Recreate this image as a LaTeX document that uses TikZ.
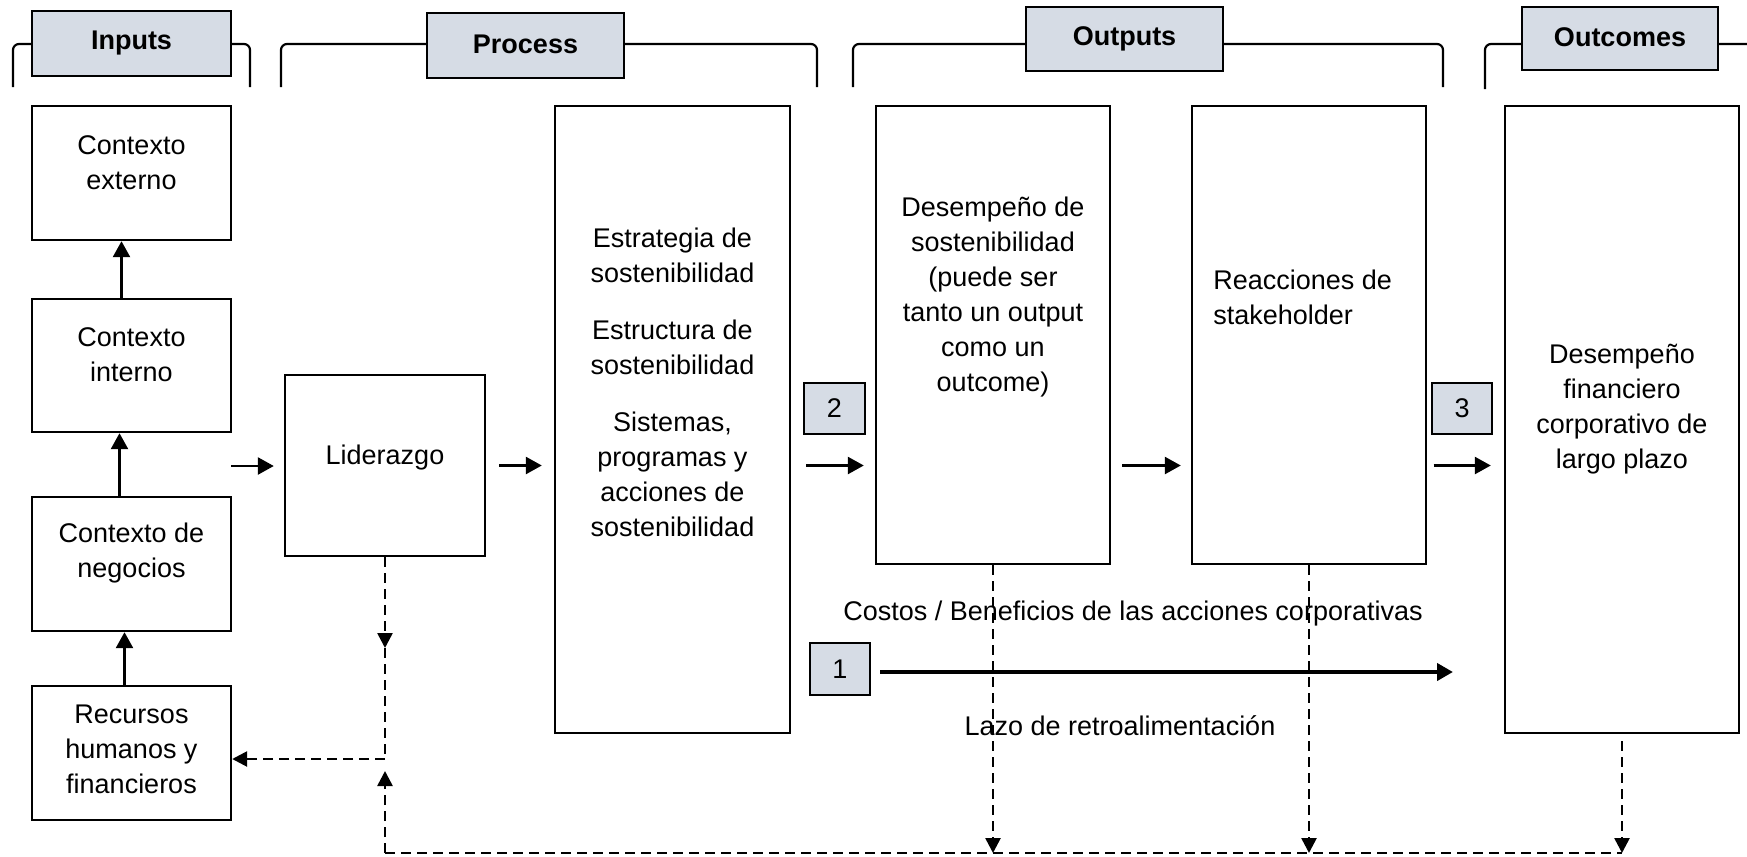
\documentclass[tikz,border=0pt]{standalone}
\usepackage{fontspec}
\setmainfont{Liberation Sans}
\usetikzlibrary{arrows.meta}
\definecolor{hdrfill}{RGB}{214,220,229}
\tikzset{
  box/.style={draw=black, line width=1.2pt, inner sep=0pt, fill=white},
  hdr/.style={draw=black, line width=1.2pt, inner sep=0pt, fill=hdrfill, font=\fontsize{13.5}{17.5}\selectfont\bfseries},
  numbox/.style={draw=black, line width=1.2pt, inner sep=0pt, fill=hdrfill, font=\fontsize{13.5}{17.5}\selectfont},
  txt/.style={align=center, inner sep=0pt, yshift=-0.6pt, font=\fontsize{13.5}{17.5}\selectfont},
  brk/.style={draw=black, line width=1.1pt, rounded corners=3pt},
  arr/.style={line width=1.3pt, -{Triangle[length=8pt,width=8.5pt]}},
  darr/.style={line width=1.3pt, dash pattern=on 5pt off 3pt, -{Triangle[length=7.5pt,width=7.5pt]}},
  dln/.style={line width=1.3pt, dash pattern=on 5pt off 3pt},
}
\begin{document}
\begin{tikzpicture}[x=0.5pt,y=-0.5pt]
\useasboundingbox (0,0) rectangle (1747,857);

% brackets
\draw[brk] (13,87) |- (250,44) -- (250,87);
\draw[brk] (281,87) |- (817,44) -- (817,87);
\draw[brk] (853,87) |- (1443,44) -- (1443,87);
\draw[brk] (1485,89) |- (1760,44);

% header boxes
\node[hdr, minimum width=99.5pt, minimum height=32.5pt] (hin) at (131.5,43.5) {\raisebox{0.6pt}{Inputs}};
\node[hdr, minimum width=98.5pt, minimum height=32.5pt] (hpr) at (525.5,45.5) {\raisebox{1.7pt}{Process}};
\node[hdr, minimum width=98.5pt, minimum height=32pt] (hou) at (1124.5,39) {\raisebox{0.6pt}{Outputs}};
\node[hdr, minimum width=98pt, minimum height=31.5pt] (hoc) at (1620,38.5) {\raisebox{1.7pt}{Outcomes}};

% input boxes
\node[box, minimum width=99.5pt, minimum height=67pt] (ext) at (131.5,173) {};
\node[txt] at (131.5,162) {Contexto\\externo};
\node[box, minimum width=99.5pt, minimum height=66.5pt] (int) at (131.5,365.5) {};
\node[txt] at (131.5,354) {Contexto\\interno};
\node[box, minimum width=99.5pt, minimum height=67pt] (neg) at (131.5,564) {};
\node[txt] at (131.5,551.5) {Contexto de\\negocios};
\node[box, minimum width=99.5pt, minimum height=67pt] (rec) at (131.5,753) {};
\node[txt] at (131.5,748.5) {Recursos\\humanos y\\financieros};

% process
\node[box, minimum width=100pt, minimum height=90.5pt] (lid) at (385,465.5) {};
\node[txt] at (385,456) {Liderazgo};
\node[box, minimum width=117.5pt, minimum height=313.5pt] (est) at (672.5,419.5) {};
\node[txt] at (672.5,381) {Estrategia de\\sostenibilidad\\[11pt]Estructura de\\sostenibilidad\\[11pt]Sistemas,\\programas y\\acciones de\\sostenibilidad};

% outputs
\node[box, minimum width=117pt, minimum height=229pt] (des) at (993,335) {};
\node[txt] at (993,296) {Desempeño de\\sostenibilidad\\(puede ser\\tanto un output\\como un\\outcome)};
\node[box, minimum width=117pt, minimum height=229pt] (rea) at (1309,335) {};
\node[txt, align=left, anchor=west] at (1213,296.5) {Reacciones de\\stakeholder};

% outcomes
\node[box, minimum width=117pt, minimum height=313.5pt] (fin) at (1622,419.5) {};
\node[txt] at (1622,407.5) {Desempeño\\financiero\\corporativo de\\largo plazo};

% number boxes
\node[numbox, minimum width=30.5pt, minimum height=25.5pt] (n2) at (834.5,408.5) {2};
\node[numbox, minimum width=30pt, minimum height=25.5pt] (n3) at (1462,408.5) {3};
\node[numbox, minimum width=30pt, minimum height=26pt] (n1) at (840,669) {1};

% labels
\node[txt] (lcost) at (1133,612) {Costos / Beneficios de las acciones corporativas};
\node[txt] (llazo) at (1120,724) {Lazo de retroalimentación};

% vertical arrows in inputs column
\draw[arr] ([xshift=-5pt]int.north) -- ([xshift=-5pt]ext.south);
\draw[arr] ([xshift=-6pt]neg.north) -- ([xshift=-6pt]int.south);
\draw[arr] ([xshift=-3.5pt]rec.north) -- ([xshift=-3.5pt]neg.south);

% horizontal arrows
\coordinate (cin) at (231,466);
\draw[arr, shorten >=5pt] (cin) -- (cin -| lid.west);
\draw[arr, shorten <=6.5pt, shorten >=6pt] (lid.east) -- (lid.east -| est.west);
\draw[arr, shorten <=7.5pt, shorten >=5.5pt] (est.east |- lid.east) -- (lid.east -| des.west);
\draw[arr, shorten <=5.5pt, shorten >=5pt] (des.east |- lid.east) -- (lid.east -| rea.west);
\draw[arr, shorten <=3.25pt, shorten >=6.5pt] (rea.east |- lid.east) -- (lid.east -| fin.west);

% arrow 1
\coordinate (c1e) at (1453,672);
\draw[line width=2.4pt, -{Triangle[length=8pt,width=8.5pt]}, shorten <=4.5pt] (n1.east |- c1e) -- (c1e);

% feedback loop
\coordinate (lm) at (385,648);
\coordinate (lc) at (385,759);
\coordinate (lu) at (385,771);
\coordinate (lb) at (385,853);
\coordinate (db) at (993,853);
\coordinate (rb) at (1309,853);
\coordinate (fb) at (1622,853);
\draw[darr] (lid.south) -- (lm);
\draw[dln] (lm) -- (lc);
\draw[darr] (lc) -- (lc -| rec.east);
\draw[darr] (lb) -- (lu);
\draw[dln] (lb) -- (fb);
\draw[darr] (des.south) -- (db);
\draw[darr] (rea.south) -- (rb);
\draw[darr, shorten <=3.5pt] (fin.south) -- (fb);
\end{tikzpicture}
\end{document}
